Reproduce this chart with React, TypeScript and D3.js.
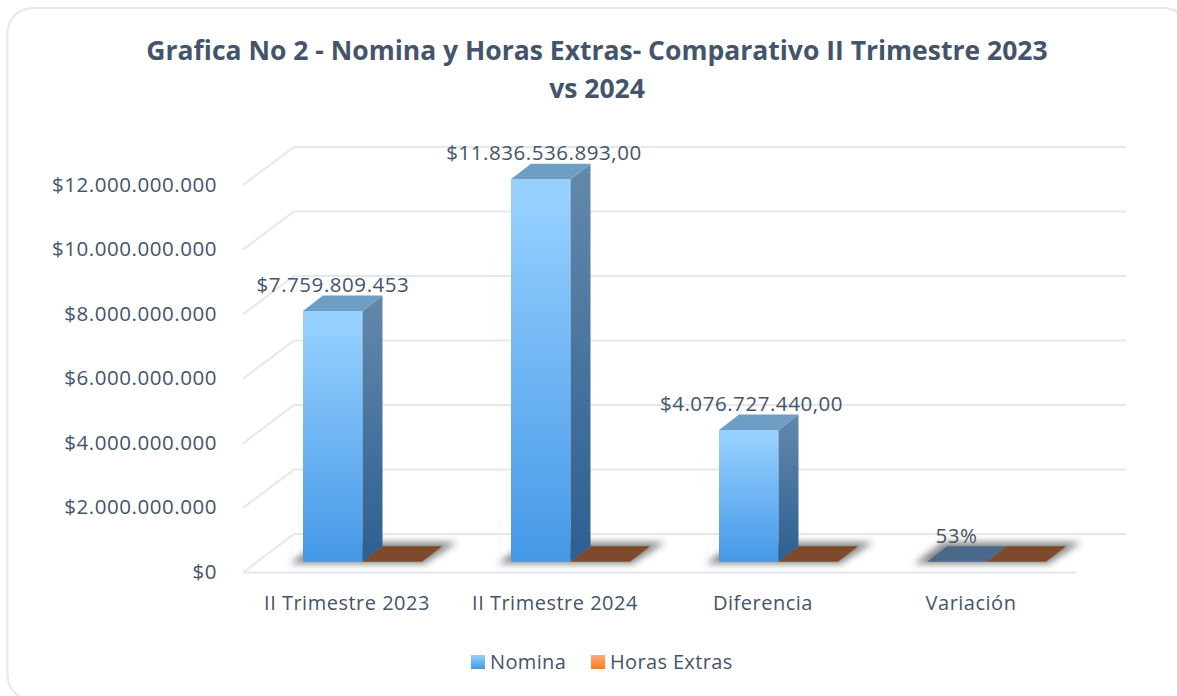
import React from "react";
import * as d3 from "d3";

const categories = ["II Trimestre 2023", "II Trimestre 2024", "Diferencia", "Variación"];
const nomina = [7759809453, 11836536893, 4076727440, 0.53];
const horasExtras = [0, 0, 0, 0];
const dataLabels = ["$7.759.809.453", "$11.836.536.893,00", "$4.076.727.440,00", "53%"];
const yTicks = [0, 2e9, 4e9, 6e9, 8e9, 10e9, 12e9];
const yTickLabels = ["$0", "$2.000.000.000", "$4.000.000.000", "$6.000.000.000", "$8.000.000.000", "$10.000.000.000", "$12.000.000.000"];
const titleLines = ["Grafica No 2 - Nomina y Horas Extras- Comparativo II Trimestre 2023", "vs 2024"];
const legendNames = ["Nomina", "Horas Extras"];

const FONT = "'Open Sans', sans-serif";
const TEXT = "#44546a";
const GRID = "#e4e7ee";

export default function App() {
  const yBack = d3.scaleLinear().domain([0, 12e9]).range([534, 147]);
  const yFront = d3.scaleLinear().domain([0, 12e9]).range([572.5, 185]);
  const yBar = d3.scaleLinear().domain([0, 12e9]).range([561.7, 174]);
  const xCat = d3.scaleBand().domain(categories).range([251, 1083]).paddingInner(0).paddingOuter(0);
  const barW = 59.5;
  const dx = 20;
  const dy = 15.5;
  const barX = (c: string) => (xCat(c) as number) + 52;

  const para = (x: number, y: number, w: number) =>
    d3.line()([[x, y], [x + w, y], [x + w + dx, y - dy], [x + dx, y - dy]]) + "Z";

  return (
    <svg width={1177} height={696} style={{ position: "fixed", left: 0, top: 0, background: "#fff" }} fontFamily={FONT}>
      <defs>
        <linearGradient id="front" x1="0" y1="0" x2="0" y2="1">
          <stop offset="0.05" stopColor="#95d0ff" />
          <stop offset="1" stopColor="#4598e6" />
        </linearGradient>
        <linearGradient id="side" x1="0" y1="0" x2="0" y2="1">
          <stop offset="0" stopColor="#6289ab" />
          <stop offset="1" stopColor="#2c5f92" />
        </linearGradient>
        <linearGradient id="lgBlue" x1="0" y1="0" x2="0" y2="1">
          <stop offset="0" stopColor="#95d0ff" />
          <stop offset="1" stopColor="#4598e6" />
        </linearGradient>
        <linearGradient id="lgOrange" x1="0" y1="0" x2="0" y2="1">
          <stop offset="0" stopColor="#ffaa7a" />
          <stop offset="1" stopColor="#fb7a20" />
        </linearGradient>
        <filter id="shadow" x="-30%" y="-100%" width="160%" height="300%">
          <feGaussianBlur stdDeviation="3.5" />
        </filter>
      </defs>

      <rect x={7.5} y={8} width={1181} height={692} rx={25} fill="#fff" stroke="#e3e7ef" strokeWidth={2} />

      <g fontWeight={700} fontSize={26.5} fill={TEXT} textAnchor="middle">
        {titleLines.map((t, i) => (
          <text key={t} x={597} y={59.5 + i * 38}>{t}</text>
        ))}
      </g>

      <g fill="none" stroke={GRID} strokeWidth={2}>
        {yTicks.map((t) => (
          <path
            key={t}
            d={d3.line()([[243, yFront(t)], [294, yBack(t)], [1126, yBack(t)]]) as string}
          />
        ))}
        <path d={d3.line()([[243, yFront(0)], [1076, yFront(0)]]) as string} />
      </g>

      <g fontSize={20.5} letterSpacing={0.55} fill={TEXT} textAnchor="end">
        {yTicks.map((t, i) => (
          <text key={t} x={217} y={yFront(t) + 6.5}>{yTickLabels[i]}</text>
        ))}
      </g>

      {categories.map((c, i) => {
        const x = barX(c);
        const y0 = yBar(0);
        const y1 = yBar(nomina[i]);
        const yH = yBar(horasExtras[i]);
        const x2 = x + barW;
        return (
          <g key={c}>
            <path
              d={d3.line()([
                [x - 13, y0 + 2],
                [x2 + barW + 2, y0 + 2],
                [x2 + barW + dx + 15, y0 - dy - 4],
                [x + dx - 4, y0 - dy - 4],
              ]) + "Z"}
              fill="#4d4d4d"
              opacity={0.68}
              filter="url(#shadow)"
            />
            <path d={para(x2, yH, barW)} fill="#7f4a2b" />
            {nomina[i] > 1 ? (
              <>
                <rect x={x} y={y1} width={barW} height={y0 - y1} fill="url(#front)" />
                <path
                  d={d3.line()([[x2, y1], [x2 + dx, y1 - dy], [x2 + dx, y0 - dy], [x2, y0]]) + "Z"}
                  fill="url(#side)"
                />
                <path d={para(x, y1, barW)} fill="#6f9ec4" />
              </>
            ) : (
              <path d={para(x, y1, barW)} fill="#48698a" />
            )}
          </g>
        );
      })}

      <g fontSize={20.5} letterSpacing={0.55} fill={TEXT} textAnchor="middle">
        {categories.map((c, i) => (
          <text key={c} x={[333, 544, 751.5, 956.5][i]} y={yBar(nomina[i]) - dy - 3.5}>
            {dataLabels[i]}
          </text>
        ))}
      </g>

      <g fontSize={20} letterSpacing={0.5} fill={TEXT} textAnchor="middle">
        {categories.map((c) => (
          <text key={c} x={(xCat(c) as number) + xCat.bandwidth() / 2 - 8} y={610}>{c}</text>
        ))}
      </g>

      <g fontSize={20} letterSpacing={0.35} fill={TEXT}>
        <rect x={471} y={655} width={14} height={14} fill="url(#lgBlue)" />
        <text x={490} y={669}>{legendNames[0]}</text>
        <rect x={591} y={655} width={14} height={14} fill="url(#lgOrange)" />
        <text x={610} y={669}>{legendNames[1]}</text>
      </g>
    </svg>
  );
}
